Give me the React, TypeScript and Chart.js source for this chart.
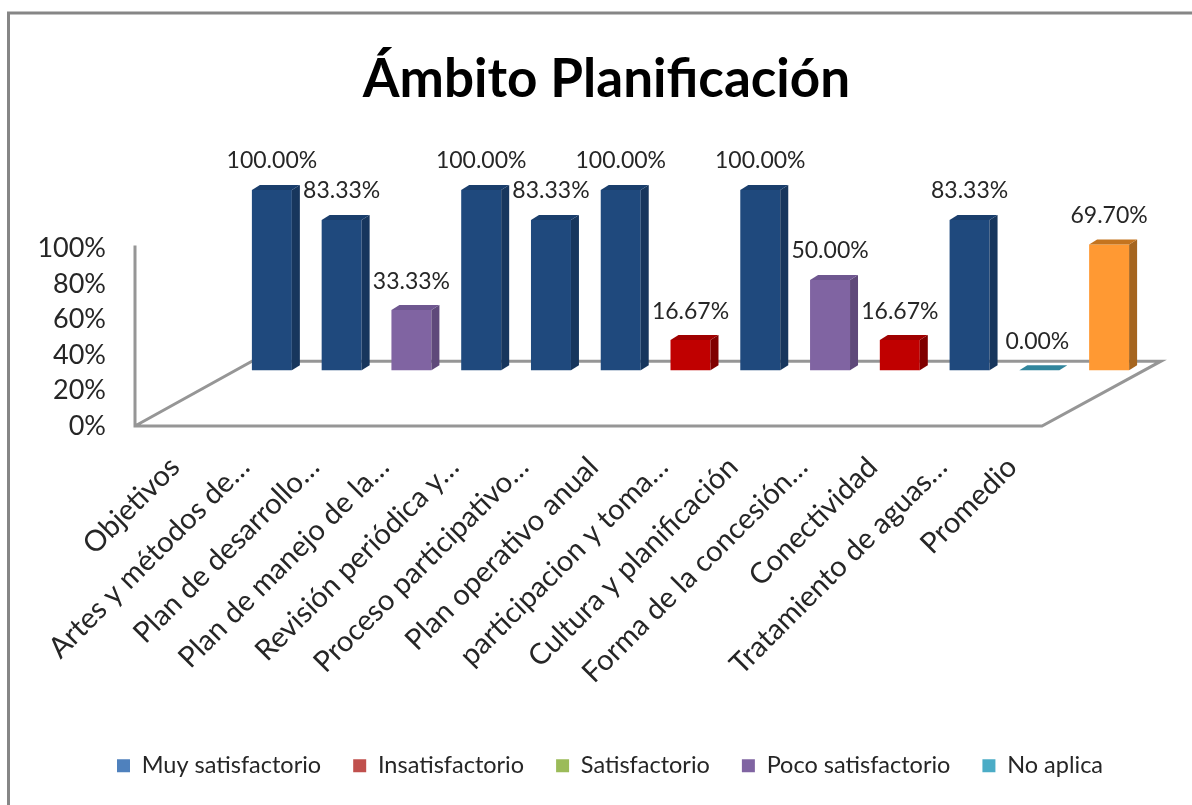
import React, { useEffect, useRef } from "react";
import { Chart, registerables } from "chart.js";

Chart.register(...registerables);

const categories = [
  "Objetivos",
  "Artes y métodos de…",
  "Plan de desarrollo…",
  "Plan de manejo de la…",
  "Revisión periódica y…",
  "Proceso participativo…",
  "Plan operativo anual",
  "participacion y toma…",
  "Cultura y planificación",
  "Forma de la concesión…",
  "Conectividad",
  "Tratamiento de aguas…",
  "Promedio",
];

const muySatisfactorio = [100, 83.33, null, 100, 83.33, 100, null, 100, null, null, 83.33, null, null];
const insatisfactorio = [null, null, null, null, null, null, 16.67, null, null, 16.67, null, null, null];
const satisfactorio = [null, null, null, null, null, null, null, null, null, null, null, null, null];
const pocoSatisfactorio = [null, null, 33.33, null, null, null, null, null, 50, null, null, null, null];
const noAplica = [null, null, null, null, null, null, null, null, null, null, null, 0, null];
const promedio = [null, null, null, null, null, null, null, null, null, null, null, null, 69.7];

const seriesNames = ["Muy satisfactorio", "Insatisfactorio", "Satisfactorio", "Poco satisfactorio", "No aplica", "Promedio"];
const seriesValues = [muySatisfactorio, insatisfactorio, satisfactorio, pocoSatisfactorio, noAplica, promedio];
const frontColors = ["#1F497D", "#C00000", "#9BBB59", "#8064A2", "#31859C", "#FF9933"];
const sideColors = ["#17365D", "#800000", "#76923C", "#5F497A", "#215868", "#A5651F"];
const topColors = ["#1A3E6C", "#A00000", "#86A84A", "#6F5790", "#31859C", "#C4741F"];
const legendColors = ["#4F81BD", "#C0504D", "#9BBB59", "#8064A2", "#4BACC6"];

const FONT = "Lato";
const TEXT = "#262626";
const DEPTH_X = 8;
const DEPTH_Y = 5;

const scene = {
  id: "scene",
  afterLayout(chart: any) {
    const lg = chart.legend;
    lg.left += 28;
    lg.right += 28;
    lg.top = 766 - lg.options.labels.padding - 12;
    const tb = chart.titleBlock;
    tb.left += 24.5;
    tb.right += 24.5;
  },
  beforeDraw(chart: any) {
    const { ctx, scales } = chart;
    ctx.save();
    ctx.fillStyle = "#FFFFFF";
    ctx.fillRect(0, 0, chart.width, chart.height);
    ctx.strokeStyle = "#868686";
    ctx.lineWidth = 3;
    ctx.beginPath();
    ctx.moveTo(8.5, chart.height);
    ctx.lineTo(8.5, 13);
    ctx.lineTo(chart.width, 13);
    ctx.stroke();

    const front = scales.y2.getPixelForValue(0);
    const back = scales.y.getPixelForValue(0) - 9;
    const wallX = scales.x.left - 102;
    const backLeft = scales.x.left + 15;
    const backRight = scales.x.right + 17;
    const frontRight = scales.x.right - 102;
    ctx.strokeStyle = "#969696";
    ctx.lineWidth = 3;
    ctx.beginPath();
    ctx.moveTo(wallX, scales.y2.getPixelForValue(100) - 3);
    ctx.lineTo(wallX, front);
    ctx.lineTo(frontRight, front);
    ctx.lineTo(backRight, back);
    ctx.lineTo(backLeft, back);
    ctx.lineTo(wallX, front);
    ctx.stroke();
    ctx.restore();
  },
  afterDatasetsDraw(chart: any) {
    const { ctx } = chart;
    ctx.save();
    chart.data.datasets.forEach((ds: any, di: number) => {
      chart.getDatasetMeta(di).data.forEach((bar: any, i: number) => {
        const v = ds.data[i];
        if (v === null || v === undefined) return;
        const half = bar.width / 2;
        const l = bar.x - half;
        const r = bar.x + half;
        const t = bar.y;
        const b = bar.base;
        if (v > 0) {
          ctx.fillStyle = sideColors[di];
          ctx.beginPath();
          ctx.moveTo(r, t);
          ctx.lineTo(r + DEPTH_X, t - DEPTH_Y);
          ctx.lineTo(r + DEPTH_X, b - DEPTH_Y);
          ctx.lineTo(r, b);
          ctx.closePath();
          ctx.fill();
        }
        ctx.fillStyle = topColors[di];
        ctx.beginPath();
        ctx.moveTo(l, t);
        ctx.lineTo(l + DEPTH_X, t - DEPTH_Y);
        ctx.lineTo(r + DEPTH_X, t - DEPTH_Y);
        ctx.lineTo(r, t);
        ctx.closePath();
        ctx.fill();
      });
    });
    ctx.fillStyle = TEXT;
    ctx.font = `23px ${FONT}`;
    ctx.textAlign = "center";
    ctx.textBaseline = "middle";
    chart.data.datasets.forEach((ds: any, di: number) => {
      chart.getDatasetMeta(di).data.forEach((bar: any, i: number) => {
        const v = ds.data[i];
        if (v === null || v === undefined) return;
        ctx.fillText(`${v.toFixed(2)}%`, bar.x + (v === 0 ? -2 : 0), bar.y - 29);
      });
    });
    ctx.restore();
  },
};

export default function App() {
  const ref = useRef<HTMLCanvasElement>(null);
  useEffect(() => {
    const chart = new Chart(ref.current as HTMLCanvasElement, {
      type: "bar",
      data: {
        labels: categories,
        datasets: seriesNames.map((name, i) => ({
          label: name,
          data: seriesValues[i],
          backgroundColor: frontColors[i],
          borderWidth: 0,
          categoryPercentage: 1,
          barPercentage: 0.573,
          stack: "all",
        })),
      },
      options: {
        responsive: false,
        animation: false,
        layout: { padding: { left: 20, right: 48, top: 0, bottom: 0 } },
        plugins: {
          title: {
            display: true,
            text: "Ámbito Planificación",
            color: "#000000",
            font: { family: FONT, size: 53, weight: "bold" },
            padding: { top: 48, bottom: 78.4 },
          },
          legend: {
            position: "bottom",
            labels: {
              boxWidth: 13,
              boxHeight: 13,
              padding: 32,
              color: TEXT,
              font: { family: FONT, size: 23.5 },
              filter: (item: any) => item.text !== "Promedio",
              generateLabels: (c: any) =>
                Chart.defaults.plugins.legend.labels.generateLabels(c).map((it: any, i: number) => ({
                  ...it,
                  fillStyle: legendColors[i] ?? it.fillStyle,
                  lineWidth: 0,
                })),
            },
          },
          tooltip: { enabled: false },
        },
        scales: {
          x: {
            stacked: true,
            grid: { display: false },
            border: { display: false },
            afterFit: (s: any) => {
              s.height = 313.5;
            },
            ticks: {
              autoSkip: false,
              maxRotation: 45,
              minRotation: 45,
              labelOffset: -97,
              padding: 16,
              color: TEXT,
              font: { family: FONT, size: 29 },
            },
          },
          y: {
            stacked: true,
            display: false,
            min: -31,
            max: 100,
          },
          y2: {
            position: "left",
            min: 0,
            max: 132.95,
            grid: { display: false, drawTicks: false },
            border: { display: false },
            afterFit: (s: any) => {
              s.width = 217;
            },
            ticks: {
              stepSize: 20,
              padding: 131,
              color: TEXT,
              font: { family: FONT, size: 27 },
              callback: (v: any) => (Number(v) <= 100 ? `${v}%` : ""),
            },
          },
        },
      },
      plugins: [scene],
    } as any);
    return () => chart.destroy();
  }, []);
  return (
    <canvas
      ref={ref}
      width={1192}
      height={805}
      style={{ position: "absolute", left: 0, top: 0, display: "block" }}
    />
  );
}
